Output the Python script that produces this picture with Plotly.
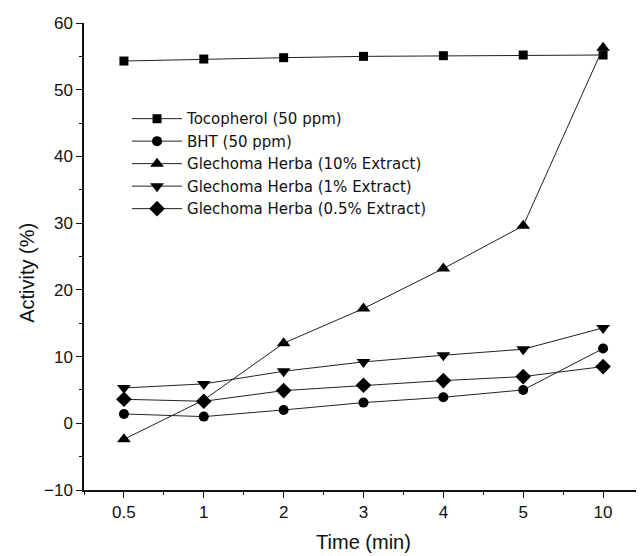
import plotly.graph_objects as go

times = ["0.5", "1", "2", "3", "4", "5", "10"]
tocopherol = [54.3, 54.6, 54.8, 55.0, 55.1, 55.2, 55.2]
bht = [1.4, 1.0, 2.0, 3.1, 3.9, 5.0, 11.2]
gh10 = [-2.4, 3.5, 12.0, 17.2, 23.2, 29.6, 56.3]
gh1 = [5.3, 5.9, 7.8, 9.2, 10.2, 11.1, 14.3]
gh05 = [3.6, 3.3, 4.9, 5.7, 6.4, 7.0, 8.5]

series = [
    ("Tocopherol (50 ppm)", tocopherol, "square", 9),
    ("BHT (50 ppm)", bht, "circle", 10),
    ("Glechoma Herba (10% Extract)", gh10, "triangle-up", 12),
    ("Glechoma Herba (1% Extract)", gh1, "triangle-down", 12),
    ("Glechoma Herba (0.5% Extract)", gh05, "diamond", 12),
]

xidx = list(range(len(times)))
fig = go.Figure()
for name, vals, sym, sz in series:
    fig.add_trace(go.Scatter(
        x=xidx, y=vals, name=name, mode="lines+markers",
        line=dict(color="#222222", width=1),
        marker=dict(symbol=sym, size=sz, color="#000000"),
    ))

# page body has an 8px margin, so the figure is 636x548 and margins compensate
fig.update_layout(
    width=636, height=548,
    margin=dict(l=76, r=1, t=15, b=66),
    paper_bgcolor="white", plot_bgcolor="white",
    font=dict(family="Liberation Sans, Arial", size=17, color="#111111"),
    showlegend=True,
    legend=dict(
        x=0.077, y=0.83, xanchor="left", yanchor="top",
        bgcolor="rgba(0,0,0,0)",
        font=dict(family="DejaVu Sans", size=15, color="#111111"),
        tracegroupgap=0, itemwidth=50,
    ),
    annotations=[dict(
        text="Activity (%)", textangle=-90, showarrow=False,
        xref="paper", yref="paper", x=0, y=0.465,
        xanchor="center", yanchor="middle", xshift=-57,
        font=dict(size=20, family="Liberation Sans, Arial", color="#111111"),
    )],
)
fig.update_xaxes(
    range=[-0.5, 6.5], tickmode="array", tickvals=xidx, ticktext=times,
    showline=True, linecolor="#111111", linewidth=1.5,
    ticks="outside", ticklen=6, tickcolor="#111111",
    minor=dict(tickmode="linear", tick0=-0.5, dtick=0.5, ticks="outside", ticklen=3, tickcolor="#111111"),
    showgrid=False, zeroline=False, automargin=False,
    title=dict(text="Time (min)", font=dict(size=20), standoff=14),
    tickfont=dict(size=17),
)
fig.update_yaxes(
    range=[-10, 60], dtick=10, tick0=0,
    showline=True, linecolor="#111111", linewidth=1.5,
    ticks="outside", ticklen=6, tickcolor="#111111",
    minor=dict(dtick=5, ticks="outside", ticklen=3, tickcolor="#111111"),
    showgrid=False, zeroline=False, automargin=False,
    tickfont=dict(size=17),
)

fig.write_html("out.html")
